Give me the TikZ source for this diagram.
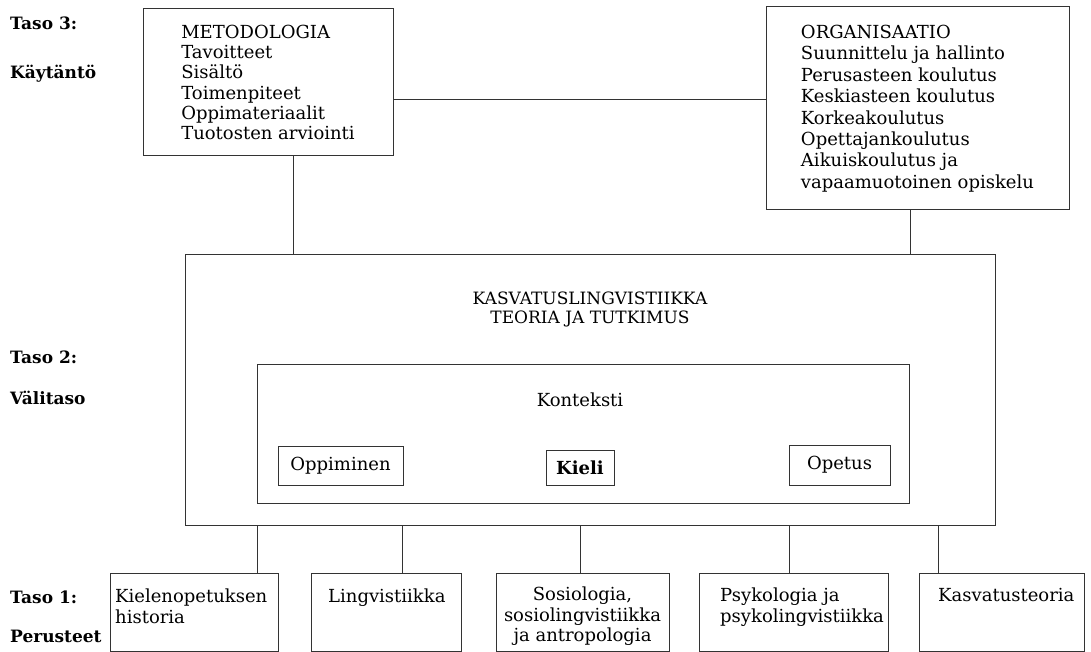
\documentclass[tikz,border=0pt]{standalone}
\usepackage{fontspec}
\setmainfont{DejaVu Serif}
\begin{document}
\begin{tikzpicture}[x=1pt,y=-1pt]
        \tikzstyle{box}=[draw=black!80,line width=1pt,fill=white,inner sep=0pt]
        \tikzstyle{txt}=[font=\fontsize{18}{20.2}\selectfont,align=left,inner sep=0pt]
        \tikzstyle{lvl}=[font=\bfseries\fontsize{17}{20}\selectfont,anchor=base west,inner sep=0pt]
        \tikzstyle{edge}=[draw=black!80,line width=1pt]
        \useasboundingbox (0,0) rectangle (1091,652);
       % taso 3
       \begin{scope}
         \node [lvl] (t3) at (10,30) {Taso 3:};
         \node [lvl] (t3b) at (10,79) {Käytäntö};
         \node [box,txt,minimum width=250pt,minimum height=147pt] (metod) at (268,82.5)
           {METODOLOGIA\\Tavoitteet\\Sisältö\\Toimenpiteet\\Oppimateriaalit\\Tuotosten arviointi};
         \node [box,txt,font=\fontsize{18}{21.4}\selectfont,minimum width=303pt,minimum height=203pt] (org) at (917.5,108.5)
           {ORGANISAATIO\\Suunnittelu ja hallinto\\Perusasteen koulutus\\Keskiasteen koulutus\\Korkeakoulutus\\Opettajankoulutus\\Aikuiskoulutus ja\\vapaamuotoinen opiskelu};
       \end{scope}
       % taso 2
       \begin{scope}
         \node [lvl] (t2) at (10,363) {Taso 2:};
         \node [lvl] (t2b) at (10,404) {Välitaso};
         \node [box,minimum width=810pt,minimum height=271pt] (kl) at (590,389.5) {};
         \node [txt,align=center,font=\fontsize{17}{19}\selectfont] (klt) at (590,309) {KASVATUSLINGVISTIIKKA\\TEORIA JA TUTKIMUS};
         \node [box,minimum width=652pt,minimum height=139pt] (kont) at (583,433.5) {};
         \node [txt] (kontt) at (580,400) {Konteksti};
         \node [box,txt,minimum width=125pt,minimum height=39pt] (oppi) at (340.5,465.5) {Oppiminen};
         \node [box,txt,font=\bfseries\fontsize{18}{20}\selectfont,minimum width=68pt,minimum height=35pt] (kieli) at (580,467.5) {Kieli};
         \node [box,txt,minimum width=101pt,minimum height=40pt] (opetus) at (839.5,465) {Opetus};
       \end{scope}
       % taso 1
       \begin{scope}
         \node [lvl] (t1) at (10,603) {Taso 1:};
         \node [lvl] (t1b) at (10,642) {Perusteet};
         \node [box,minimum width=168pt,minimum height=78pt] (hist) at (194,612) {};
         \node [box,minimum width=150pt,minimum height=78pt] (ling) at (386,612) {};
         \node [box,minimum width=173pt,minimum height=78pt] (sosio) at (582.5,612) {};
         \node [box,minimum width=189pt,minimum height=78pt] (psyko) at (793.5,612) {};
         \node [box,minimum width=165pt,minimum height=78pt] (kasvt) at (1001.5,612) {};
         \node [txt,anchor=north west] (histt) at (115,589) {Kielenopetuksen\\historia};
         \node [txt,anchor=north west] (lingt) at (328,589) {Lingvistiikka};
         \node [txt,anchor=north,align=center] (sosiot) at (582.5,587) {Sosiologia,\\sosiolingvistiikka\\ja antropologia};
         \node [txt,anchor=north west] (psykot) at (720,588) {Psykologia ja\\psykolingvistiikka};
         \node [txt,anchor=north west] (kasvtt) at (938,588) {Kasvatusteoria};
       \end{scope}
       % yhteydet
       \coordinate (m1) at ([yshift=-17.5pt]metod.east);
       \draw [edge] (m1) -- (m1 -| org.west);
       \coordinate (m2) at ([xshift=25pt]metod.south);
       \draw [edge] (m2) -- (m2 |- kl.north);
       \coordinate (o2) at ([xshift=-7.5pt]org.south);
       \draw [edge] (o2) -- (o2 |- kl.north);
       \foreach \b/\s in {hist/63,ling/16,sosio/-2.5,psyko/-4.5,kasvt/-63.5}{
         \coordinate (c) at ([xshift=\s pt]\b.north);
         \draw [edge] (c) -- (c |- kl.south);
       }
      \end{tikzpicture}
\end{document}
